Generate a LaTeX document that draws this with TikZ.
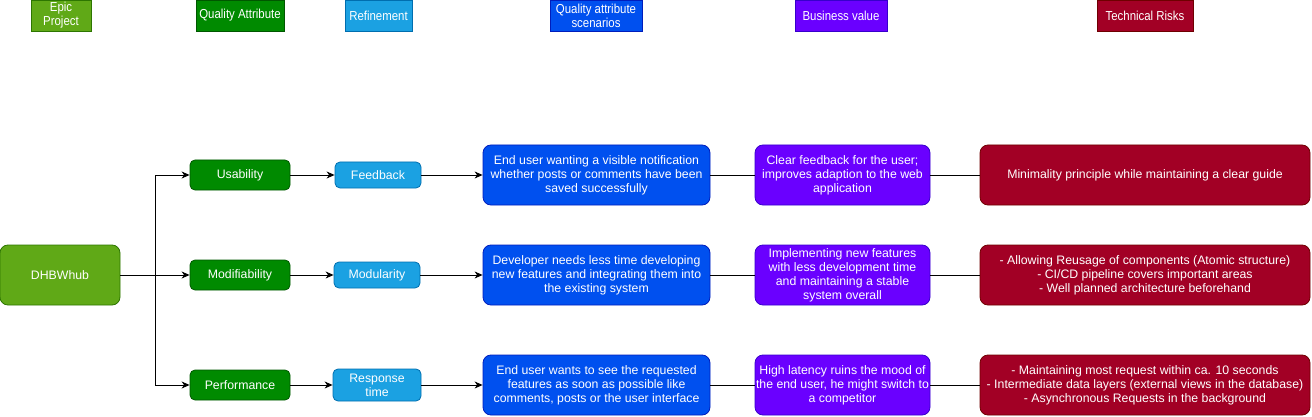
\documentclass[tikz,border=0pt]{standalone}
\usepackage{fontspec}
\setmainfont{Liberation Sans}
\newfontfamily\narrowfont[FakeStretch=0.88]{Liberation Sans}
\usetikzlibrary{arrows.meta}
\definecolor{cEpic}{HTML}{60A917}\definecolor{sEpic}{HTML}{2D7600}
\definecolor{cQA}{HTML}{008A00}\definecolor{sQA}{HTML}{005700}
\definecolor{cRef}{HTML}{1BA1E2}\definecolor{sRef}{HTML}{006EAF}
\definecolor{cScen}{HTML}{0050EF}\definecolor{sScen}{HTML}{001DBC}
\definecolor{cBus}{HTML}{6A00FF}\definecolor{sBus}{HTML}{3700CC}
\definecolor{cRisk}{HTML}{A20025}\definecolor{sRisk}{HTML}{6F0000}
\tikzset{
  base/.style={draw, text=white, align=center, inner sep=0pt, line width=0.8pt},
  hdr/.style={base, minimum height=31pt, font=\narrowfont\fontsize{13}{14}\selectfont},
  box/.style={base, rounded corners=8pt, font=\fontsize{12.3}{14}\selectfont},
  sbox/.style={base, rounded corners=5pt, font=\fontsize{12.3}{14}\selectfont},
  epic/.style={fill=cEpic, draw=sEpic},
  qa/.style={fill=cQA, draw=sQA},
  refi/.style={fill=cRef, draw=sRef},
  scen/.style={fill=cScen, draw=sScen},
  bus/.style={fill=cBus, draw=sBus},
  risk/.style={fill=cRisk, draw=sRisk},
  conn/.style={line width=1pt, draw=black},
  arr/.style={conn, -{Stealth[length=8pt,width=7pt,inset=2.5pt]}}
}
\begin{document}
\begin{tikzpicture}[x=1pt,y=-1pt]
\useasboundingbox (0,0) rectangle (1312,417);
% headers
\node[hdr, epic, minimum width=60pt] (hEpic) at (61,15.5) {Epic\\Project};
\node[hdr, qa, minimum width=88pt] (hQA) at (240,15.5) {Quality Attribute};
\node[hdr, refi, minimum width=67pt] (hRef) at (378.5,15.5) {Refinement};
\node[hdr, scen, minimum width=92pt] (hScen) at (596,15.5) {Quality attribute\\scenarios};
\node[hdr, bus, minimum width=92pt] (hBus) at (841,15.5) {Business value};
\node[hdr, risk, minimum width=96pt] (hRisk) at (1145,15.5) {Technical Risks};
% root
\node[box, epic, minimum width=120pt, minimum height=60pt] (root) at (60,275) {DHBWhub};
% quality attributes
\node[sbox, qa, minimum width=100pt, minimum height=30pt] (qa1) at (240,175) {Usability};
\node[sbox, qa, minimum width=100pt, minimum height=30pt] (qa2) at (240,275) {Modifiability};
\node[sbox, qa, minimum width=100pt, minimum height=30pt] (qa3) at (240,385) {Performance};
% refinements
\node[sbox, refi, minimum width=86pt, minimum height=26pt] (r1) at (378,175) {Feedback};
\node[sbox, refi, minimum width=86pt, minimum height=26pt] (r2) at (377,275) {Modularity};
\node[sbox, refi, minimum width=88pt, minimum height=32pt] (r3) at (377,385) {Response\\time};
% scenarios
\node[box, scen, minimum width=227pt, minimum height=60pt] (s1) at (596.5,175) {End user wanting a visible notification\\whether posts or comments have been\\saved successfully};
\node[box, scen, minimum width=227pt, minimum height=60pt] (s2) at (596.5,275) {Developer needs less time developing\\new features and integrating them into\\the existing system};
\node[box, scen, minimum width=227pt, minimum height=60pt] (s3) at (596.5,385) {End user wants to see the requested\\features as soon as possible like\\comments, posts or the user interface};
% business value
\node[box, bus, minimum width=175pt, minimum height=60pt] (b1) at (842.5,175) {Clear feedback for the user;\\improves adaption to the web\\application};
\node[box, bus, minimum width=175pt, minimum height=60pt] (b2) at (842.5,275) {Implementing new features\\with less development time\\and maintaining a stable\\system overall};
\node[box, bus, minimum width=175pt, minimum height=60pt] (b3) at (842.5,385) {High latency ruins the mood of\\the end user, he might switch to\\a competitor};
% technical risks
\node[box, risk, minimum width=330pt, minimum height=60pt] (t1) at (1145,175) {Minimality principle while maintaining a clear guide};
\node[box, risk, minimum width=330pt, minimum height=60pt] (t2) at (1145,275) {- Allowing Reusage of components (Atomic structure)\\- CI/CD pipeline covers important areas\\- Well planned architecture beforehand};
\node[box, risk, minimum width=330pt, minimum height=60pt] (t3) at (1145,385) {- Maintaining most request within ca. 10 seconds\\- Intermediate data layers (external views in the database)\\- Asynchronous Requests in the background};
% connectors
\coordinate (fork) at (155,275);
\draw[conn] (root.east) -- (fork);
\draw[arr] (fork) |- (qa1.west);
\draw[arr] (fork) -- (qa2.west);
\draw[arr] (fork) |- (qa3.west);
\foreach \i in {1,2,3}{
  \draw[arr] (qa\i.east) -- (r\i.west);
  \draw[arr] (r\i.east) -- (s\i.west);
  \draw[conn] (s\i.east) -- (b\i.west);
  \draw[conn] (b\i.east) -- (t\i.west);
}
\end{tikzpicture}
\end{document}
